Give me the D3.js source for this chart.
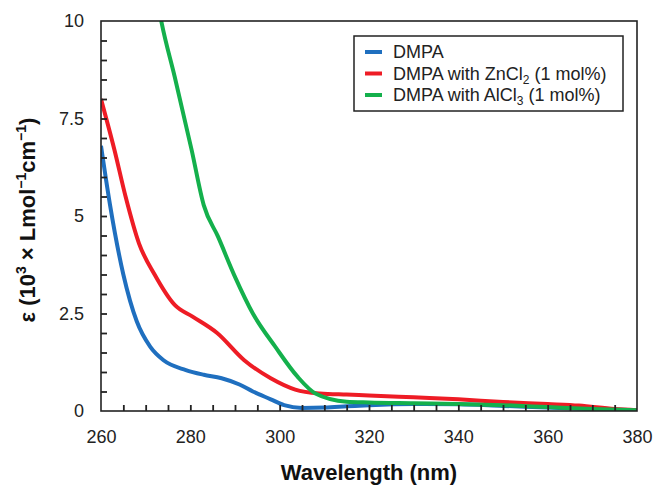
<!DOCTYPE html>
<html><head><meta charset="utf-8">
<script src="https://cdn.jsdelivr.net/npm/d3@7"></script>
<style>body{margin:0;background:#fff;} svg{display:block;font-family:"Liberation Sans",Arial,sans-serif;}</style>
</head><body>
<script>
// Data (wavelength nm, epsilon x10^3)
const dmpaWl   = [260, 262, 265, 268, 271, 274, 279, 283, 287, 291, 294, 298, 301, 305, 310, 315, 320, 330, 340, 350, 360, 370, 380];
const dmpaEps  = [6.8, 5.3, 3.5, 2.3, 1.65, 1.3, 1.05, 0.93, 0.84, 0.68, 0.5, 0.3, 0.15, 0.08, 0.09, 0.12, 0.15, 0.18, 0.17, 0.13, 0.09, 0.05, 0.02];
const znWl     = [260, 263, 265.5, 268.5, 272, 276.5, 280.5, 286, 292, 298, 303.5, 309, 315, 320, 330, 340, 350, 360, 367, 375, 380];
const znEps    = [8.0, 6.7, 5.5, 4.3, 3.5, 2.72, 2.42, 2.0, 1.31, 0.84, 0.55, 0.45, 0.42, 0.4, 0.35, 0.3, 0.23, 0.18, 0.14, 0.05, 0.02];
const alWl     = [272.5, 273.6, 276.5, 280.3, 283, 286.2, 290, 294, 299, 304, 308, 315, 320, 330, 340, 350, 360, 370, 380];
const alEps    = [10.6, 9.94, 8.57, 6.69, 5.28, 4.47, 3.44, 2.5, 1.65, 0.88, 0.45, 0.24, 0.22, 0.2, 0.18, 0.15, 0.1, 0.05, 0.02];
const seriesNames  = ["DMPA", "DMPA with ZnCl", "DMPA with AlCl"];
const seriesSubs   = ["", "2", "3"];
const seriesColors = ["#1f6fbf", "#ee1c25", "#14b04c"];
const xTicks = [260, 280, 300, 320, 340, 360, 380];
const xMinorTicks = [265, 270, 275, 280, 285, 290, 295, 300, 305, 310, 315, 320, 325, 330, 335, 340, 345, 350, 355, 360, 365, 370, 375];
const yTicks = [0, 2.5, 5, 7.5, 10];
const yMinorTicks = [0.5, 1, 1.5, 2, 2.5, 3, 3.5, 4, 4.5, 5, 5.5, 6, 6.5, 7, 7.5, 8, 8.5, 9, 9.5];
const yTickLabels = ["0", "2.5", "5", "7.5", "10"];

const W = 656, H = 486;
const m = {left: 101, right: 19, top: 21, bottom: 75};
const svg = d3.select("body").append("svg").attr("width", W).attr("height", H);
const x = d3.scaleLinear().domain([260, 380]).range([m.left, W - m.right]);
const y = d3.scaleLinear().domain([0, 10]).range([H - m.bottom, m.top]);
const x0 = m.left, y0 = H - m.bottom;

svg.append("defs").append("clipPath").attr("id", "clip")
  .append("rect").attr("x", m.left).attr("y", m.top)
  .attr("width", W - m.right - m.left).attr("height", H - m.bottom - m.top);

const series = [
  {wl: dmpaWl, eps: dmpaEps},
  {wl: znWl, eps: znEps},
  {wl: alWl, eps: alEps}
];
const line = d3.line().x(d => x(d[0])).y(d => y(d[1])).curve(d3.curveMonotoneX);
const g = svg.append("g").attr("clip-path", "url(#clip)");
series.forEach((s, i) => {
  g.append("path").datum(s.wl.map((w, j) => [w, s.eps[j]]))
    .attr("fill", "none").attr("stroke", seriesColors[i])
    .attr("stroke-width", 4).attr("stroke-linejoin", "round").attr("d", line);
});

// frame
svg.append("rect").attr("x", m.left).attr("y", m.top)
  .attr("width", W - m.right - m.left).attr("height", H - m.bottom - m.top)
  .attr("fill", "none").attr("stroke", "#222").attr("stroke-width", 1.6);

// inward tick marks, drawn on top
const xMinorAxis = d3.axisBottom(x).tickValues(xMinorTicks).tickSizeInner(-6).tickSizeOuter(0).tickFormat("");
const yMinorAxis = d3.axisLeft(y).tickValues(yMinorTicks).tickSizeInner(-6).tickSizeOuter(0).tickFormat("");
const xa = svg.append("g").attr("transform", `translate(0,${y0})`).call(xMinorAxis);
const ya = svg.append("g").attr("transform", `translate(${x0},0)`).call(yMinorAxis);
[xa, ya].forEach(a => {
  a.select(".domain").remove();
  a.selectAll(".tick line").attr("stroke", "#222").attr("stroke-width", 1.8);
});

// tick labels via axes
const xAxis = d3.axisBottom(x).tickValues(xTicks).tickSize(0).tickPadding(19).tickFormat(d3.format("d"));
const yAxis = d3.axisLeft(y).tickValues(yTicks).tickSize(0).tickPadding(17).tickFormat((d, i) => yTickLabels[i]);
function styleAxis(sel) {
  sel.selectAll(".domain").remove();
  sel.selectAll(".tick line").remove();
  sel.selectAll("text").attr("font-size", 18).attr("fill", "#222");
}
svg.append("g").attr("transform", `translate(0,${y0})`).call(xAxis).call(styleAxis);
svg.append("g").attr("transform", `translate(${x0},0)`).call(yAxis).call(styleAxis);

// axis titles
svg.append("text").attr("x", (m.left + W - m.right) / 2).attr("y", 480)
  .attr("text-anchor", "middle").attr("font-weight", "bold").attr("font-size", 22).attr("fill", "#111")
  .text("Wavelength (nm)");
const yt = svg.append("text").attr("transform", `translate(35,220) rotate(-90)`)
  .attr("text-anchor", "middle").attr("font-weight", "bold").attr("font-size", 22).attr("fill", "#111");
yt.append("tspan").text("ε (10");
yt.append("tspan").text("3").attr("font-size", 14).attr("dy", -9);
yt.append("tspan").text(" × Lmol").attr("dy", 9);
yt.append("tspan").text("−1").attr("font-size", 14).attr("dy", -9);
yt.append("tspan").text("cm").attr("dy", 9);
yt.append("tspan").text("−1").attr("font-size", 14).attr("dy", -9);
yt.append("tspan").text(")").attr("dy", 9);

// legend
const lg = svg.append("g");
lg.append("rect").attr("x", 354).attr("y", 36).attr("width", 269).attr("height", 75)
  .attr("fill", "#fff").attr("stroke", "#222").attr("stroke-width", 1.5);
seriesNames.forEach((name, i) => {
  const cy = 52 + i * 21.5;
  lg.append("line").attr("x1", 365).attr("x2", 382).attr("y1", cy).attr("y2", cy)
    .attr("stroke", seriesColors[i]).attr("stroke-width", 4);
  const t = lg.append("text").attr("x", 393).attr("y", cy + 6).attr("font-size", 18).attr("fill", "#222");
  t.append("tspan").text(name);
  if (seriesSubs[i]) {
    t.append("tspan").text(seriesSubs[i]).attr("font-size", 12).attr("dy", 4);
    t.append("tspan").text(" (1 mol%)").attr("dy", -4);
  }
});
</script>
</body></html>
